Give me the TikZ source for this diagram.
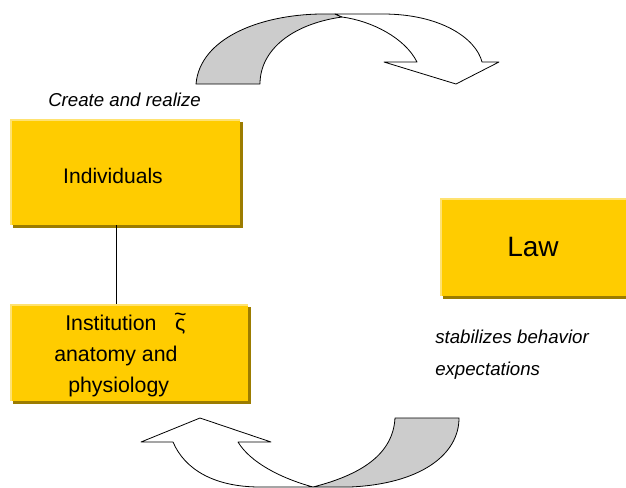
\documentclass[tikz,border=0pt]{standalone}
\usepackage{fontspec}
\setmainfont{Liberation Sans}
\usepackage{tikz}
\usetikzlibrary{shadows}
\definecolor{boxgold}{HTML}{FFCC00}
\definecolor{boxshade}{HTML}{9C7C00}
\definecolor{boxlight}{HTML}{FFE270}
\definecolor{bandgray}{HTML}{CCCCCC}

\begin{document}
\begin{tikzpicture}[x=0.75pt,y=0.75pt,yscale=-1,xscale=1,
  goldbox/.style={fill=boxgold, inner sep=0pt, outer sep=0pt,
    general shadow={fill=boxshade, shadow xshift=2.25pt, shadow yshift=-2.25pt},
    path picture={\fill[boxlight] (path picture bounding box.north west) rectangle ([yshift=-1.6pt]path picture bounding box.north east);
      \fill[boxlight] (path picture bounding box.north west) rectangle ([xshift=1.6pt]path picture bounding box.south west);}},
  boxtext/.style={inner sep=0pt, font=\fontsize{16}{22.9}\selectfont},
  notetext/.style={inner sep=0pt, anchor=base west, align=left, font=\fontsize{14}{24}\selectfont\itshape},
  band/.style={draw=black, line width=0.6pt, line join=round}]
\useasboundingbox (0,0) rectangle (626,487);
% boxes
\node[goldbox, minimum width=172.5pt, minimum height=79.5pt] (indiv) at (125,172) {};
\node[boxtext, font=\fontsize{15.8}{20}\selectfont] (indivlabel) at (113,176) {Individuals};
\node[goldbox, minimum width=178.5pt, minimum height=72.75pt] (inst) at (129,352.5) {};
\node[boxtext, anchor=base west, align=left] (instlabel) at (54,392) {\hspace*{8.25pt}Institution\hspace{14pt}\ooalign{ς\cr\hidewidth\raisebox{0.42em}{\~{}}\hidewidth\cr}\\anatomy and\\\hspace*{10.5pt}physiology};
\node[goldbox, minimum width=139.5pt, minimum height=73.5pt, font=\fontsize{21}{25}\selectfont] (law) at (533,247) {Law};
\draw[line width=0.6pt] ([xshift=-6.75pt]indiv.south) -- ([xshift=-6.75pt]indiv.south |- inst.north);
% notes
\node[notetext] (create) at (48,106) {Create and realize};
\node[notetext] (stabil) at (435,375) {stabilizes behavior\\expectations};
% upper curved arrow
\draw[band, fill=bandgray] (196,84) .. controls (200,38) and (260,15) .. (320,14) -- (335,14) -- (342,17) .. controls (292,24) and (260,50) .. (260,84) -- cycle;
\draw[band, fill=white] (335,14) -- (383,14) .. controls (440,14) and (476,38) .. (482,62) -- (499,62) -- (456,84) -- (384,62) -- (417,62) .. controls (405,38) and (372,21) .. (342,17) -- cycle;
% lower curved arrow
\draw[band, fill=bandgray] (395,418) -- (459,418) .. controls (459,455) and (420,484) .. (350,487) -- (313,487) .. controls (360,475) and (393,455) .. (395,418) -- cycle;
\draw[band, fill=white] (313,487) .. controls (280,478) and (250,462) .. (238,442) -- (271,442) -- (200,418) -- (141,442) -- (173,442) .. controls (185,470) and (215,487) .. (260,487) -- cycle;
\end{tikzpicture}
\end{document}
